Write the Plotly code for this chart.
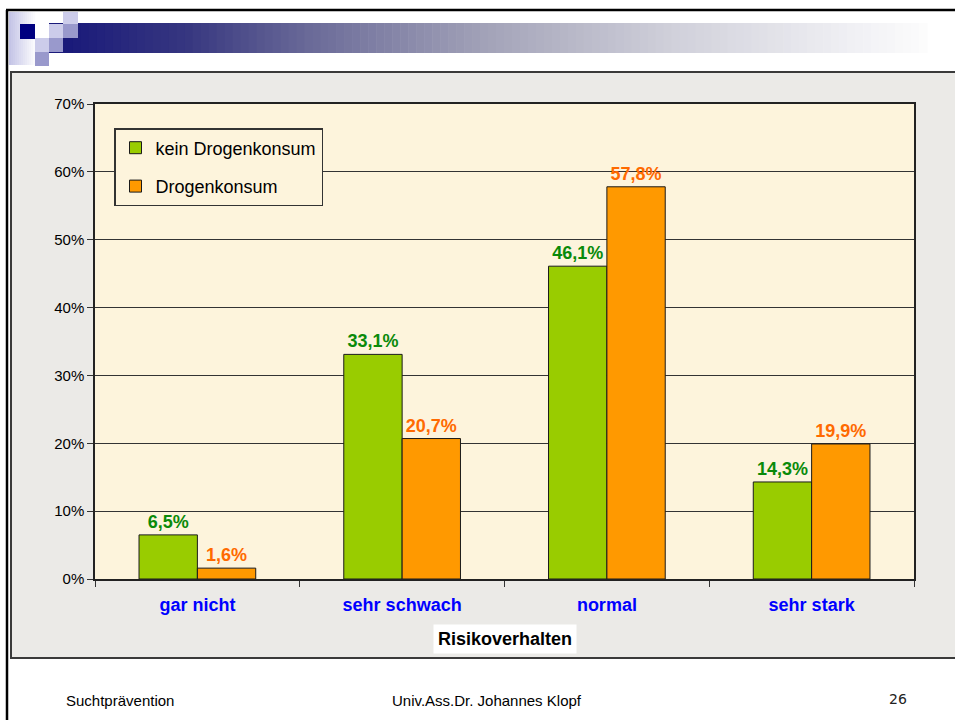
import plotly.graph_objects as go

# ---------------- data ----------------
categories = ["gar nicht", "sehr schwach", "normal", "sehr stark"]
kein_drogenkonsum = [6.5, 33.1, 46.1, 14.3]
drogenkonsum = [1.6, 20.7, 57.8, 19.9]
series_names = ["kein Drogenkonsum", "Drogenkonsum"]
y_ticks = [0, 10, 20, 30, 40, 50, 60, 70]
y_tick_labels = ["0%", "10%", "20%", "30%", "40%", "50%", "60%", "70%"]
x_title = "Risikoverhalten"
footer_left = "Suchtprävention"
footer_center = "Univ.Ass.Dr. Johannes Klopf"
footer_right = "26"

# ---------------- layout geometry (pixels) ----------------
W, H = 955, 720
L, R, T, B = 95, 41, 104, 141
PW = W - L - R
PH = H - T - B


def px(x):
    return (x - L) / PW


def py(y):
    return (H - B - y) / PH


FONT = "Liberation Sans, Arial, sans-serif"

fig = go.Figure()
fig.add_trace(go.Bar(
    x=categories, y=kein_drogenkonsum, name=series_names[0],
    marker=dict(color="#99cc00", line=dict(color="#1a1a1a", width=1)),
    texttemplate="%{y:.1f}%", textposition="outside", cliponaxis=False,
    textfont=dict(family=FONT, size=18, color="#0a8a0a", weight="bold"),
    legendgroup="a",
))
fig.add_trace(go.Bar(
    x=categories, y=drogenkonsum, name=series_names[1],
    marker=dict(color="#ff9900", line=dict(color="#1a1a1a", width=1)),
    texttemplate="%{y:.1f}%", textposition="outside", cliponaxis=False,
    textfont=dict(family=FONT, size=18, color="#ff6a00", weight="bold"),
    legendgroup="b",
))

shapes = []


def rect(x0, y0, x1, y1, fill, line_color=None, line_width=0, layer="below"):
    shapes.append(dict(
        type="rect", xref="paper", yref="paper",
        x0=px(x0), x1=px(x1), y0=py(y1), y1=py(y0),
        fillcolor=fill, layer=layer,
        line=dict(color=line_color or fill, width=line_width),
    ))


def line(x0, y0, x1, y1, color, width, layer="below"):
    shapes.append(dict(
        type="line", xref="paper", yref="paper",
        x0=px(x0), x1=px(x1), y0=py(y0), y1=py(y1),
        line=dict(color=color, width=width), layer=layer,
    ))


# textured grey panel + plot area
rect(11, 72, 962, 658, "#ebeae7", "#3a3a3a", 2)
rect(L, T, W - R, H - B, "#fdf4dc")


# header gradient bar
def grad(t):
    stops = [(0, (26, 26, 122)), (0.14, (55, 55, 128)), (0.28, (106, 106, 152)),
             (0.49, (164, 164, 185)), (0.70, (208, 208, 218)), (0.91, (240, 240, 244)),
             (1.0, (253, 253, 253))]
    for (t0, c0), (t1, c1) in zip(stops[:-1], stops[1:]):
        if t0 <= t <= t1:
            f = (t - t0) / (t1 - t0)
            return "rgb(%d,%d,%d)" % tuple(round(a + (b - a) * f) for a, b in zip(c0, c1))
    return "rgb(253,253,253)"


gx0, gx1 = 49, 927
steps = 110
for i in range(steps):
    a = gx0 + (gx1 - gx0) * i / steps
    b = gx0 + (gx1 - gx0) * (i + 1) / steps + 0.6
    t = max(0.0, (a - 63) / (gx1 - 63))
    rect(a, 23, b, 53, grad(t))

# left light strip
for i in range(13):
    a = 9 + 2 * i
    f = i / 13
    c = tuple(round(v + (255 - v) * f) for v in (196, 196, 230))
    rect(a, 12, a + 2.2, 65, "rgb(%d,%d,%d)" % c)

light, medium = "#ccccea", "#9999cc"
rect(20, 24, 35, 39, "#000080")
rect(35, 38, 49, 52, light)
rect(49, 24, 63, 38, light)
rect(63, 12, 78, 24, light)
rect(63, 24, 78, 38, medium)
rect(49, 38, 63, 52, medium)
rect(35, 52, 49, 66, medium)

# outer slide frame
line(6, 10, 960, 10, "#000000", 2.5)
line(7, 10, 7, 725, "#000000", 2.5)

annotations = [
    dict(text="<b>" + x_title + "</b>", xref="paper", yref="paper",
         x=px(504.5), y=py(639), xanchor="center", yanchor="middle", showarrow=False,
         font=dict(family=FONT, size=18, color="#000000"),
         bgcolor="#ffffff", borderpad=4),
    dict(text=footer_left, xref="paper", yref="paper", x=px(64), y=py(700),
         xanchor="left", yanchor="middle", showarrow=False,
         font=dict(family=FONT, size=15, color="#000000")),
    dict(text=footer_center, xref="paper", yref="paper", x=px(487), y=py(700),
         xanchor="center", yanchor="middle", showarrow=False,
         font=dict(family=FONT, size=15, color="#000000")),
    dict(text=footer_right, xref="paper", yref="paper", x=px(898), y=py(699),
         xanchor="center", yanchor="middle", showarrow=False,
         font=dict(family="DejaVu Sans, sans-serif", size=14, color="#222222")),
]

fig.update_layout(
    width=W, height=H,
    margin=dict(l=L, r=R, t=T, b=B, pad=0),
    paper_bgcolor="#ffffff",
    plot_bgcolor="rgba(0,0,0,0)",
    separators=",.",
    barmode="group", bargap=0.43, bargroupgap=0,
    font=dict(family=FONT, color="#000000"),
    shapes=shapes,
    annotations=annotations,
    showlegend=True,
    hovermode=False,
    legend=dict(
        x=px(114), y=py(128), xanchor="left", yanchor="top",
        bgcolor="#fdf4dc", bordercolor="#333333", borderwidth=1.5,
        font=dict(family=FONT, size=18, color="#000000"),
        traceorder="grouped", tracegroupgap=12,
    ),
    xaxis=dict(
        type="category", tickson="boundaries", ticks="outside", ticklen=6,
        tickcolor="#333333", showline=True, linecolor="#222222", linewidth=1.5,
        mirror=True, showgrid=False,
        tickfont=dict(family=FONT, size=18, color="#0000ff", weight="bold"),
        ticklabelstandoff=9,
    ),
    yaxis=dict(
        range=[0, 70], tickmode="array", tickvals=y_ticks, ticktext=y_tick_labels,
        ticks="outside", ticklen=6,
        tickcolor="#333333", showline=True, linecolor="#222222", linewidth=1.5,
        mirror=True, showgrid=True, gridcolor="#333333", gridwidth=1,
        zeroline=False,
        tickfont=dict(family=FONT, size=15, color="#000000"),
    ),
)

fig.write_html("out.html", config={"displayModeBar": False},
               post_script="document.body.style.margin='0';")
